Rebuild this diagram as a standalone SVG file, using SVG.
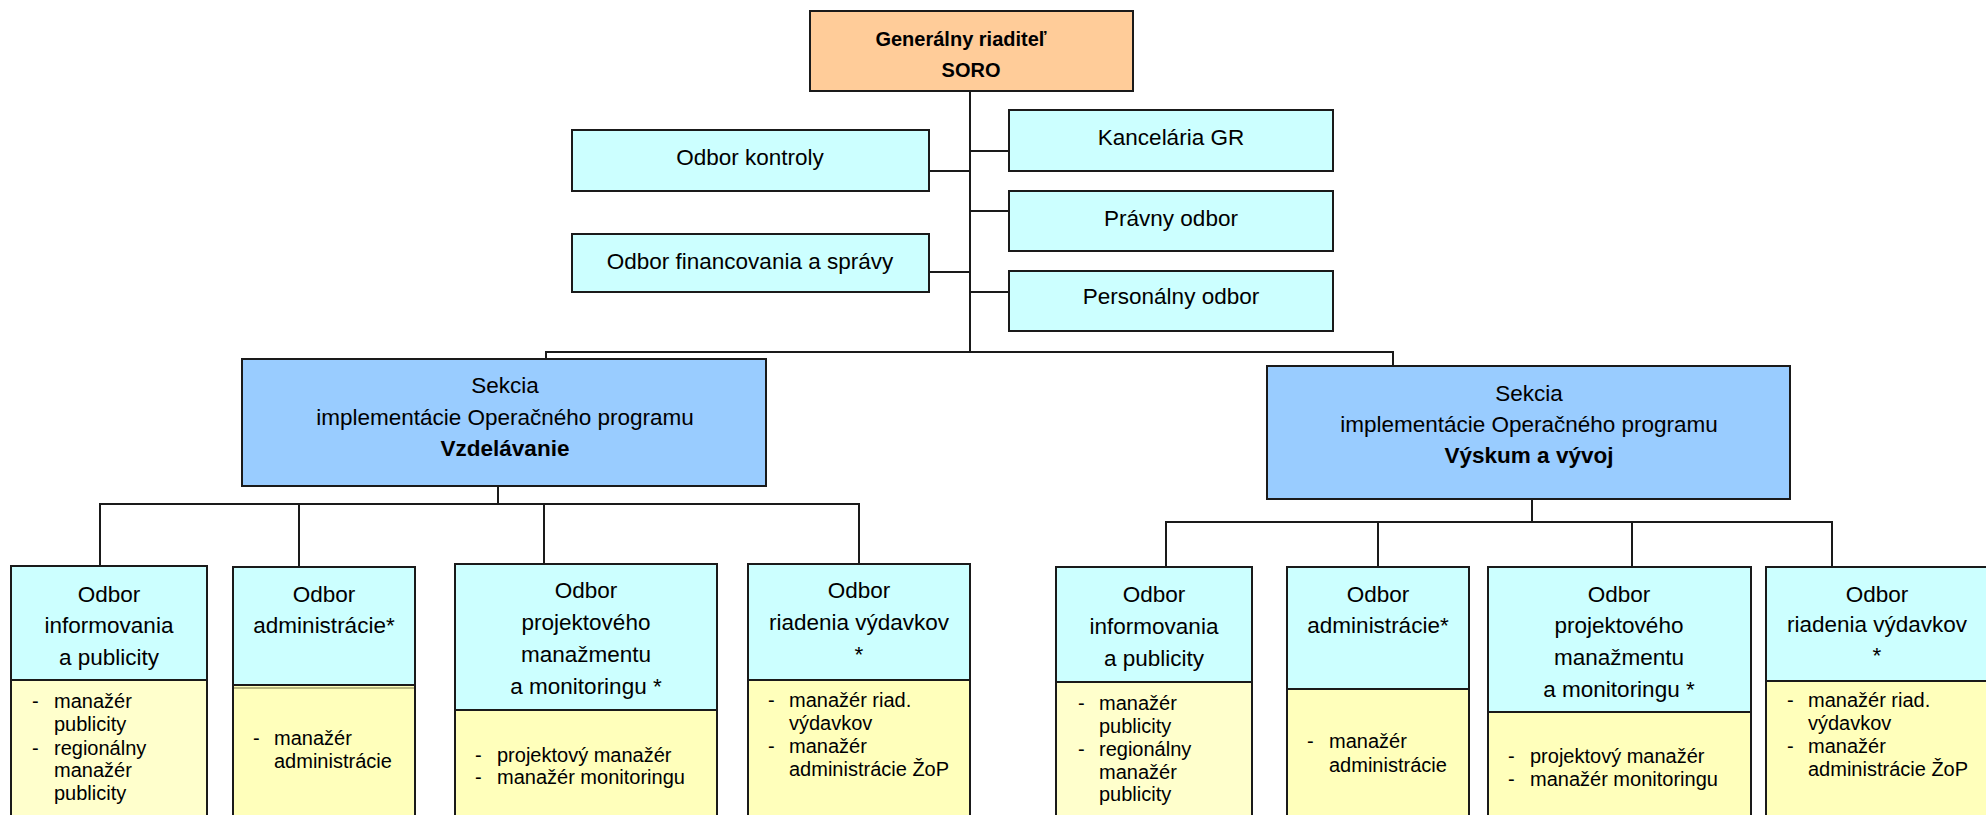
<svg xmlns="http://www.w3.org/2000/svg" width="1986" height="815" viewBox="0 0 1986 815">
<style>
text{font-family:"Liberation Sans",Arial,sans-serif;fill:#000}
.h{font-size:22.5px;text-anchor:middle}
.b{font-weight:bold}
.it{font-size:20px}
.box{stroke:#1a1a1a;stroke-width:2}
.gr{fill:#FFCC99}
.cy{fill:#CCFFFF}
.sec{fill:#99CCFF}
.y1{fill:#FFFFCC}
.y2{fill:#FFFFBB}
.ln{fill:none;stroke:#1a1a1a;stroke-width:2}
</style>
<rect width="1986" height="815" fill="#ffffff"/>
<g id="connectors" class="ln">
<path d="M970,91 V352"/>
<path d="M929,171 H970 M929,272 H970"/>
<path d="M970,151 H1009 M970,211 H1009 M970,292 H1009"/>
<path d="M546,359 V352 H1393 V366"/>
<path d="M498,486 V505"/>
<path d="M100,566 V504 H859 V566"/>
<path d="M299,504 V566 M544,505 V564"/>
<path d="M1532,499 V522"/>
<path d="M1166,567 V522 H1832 V567"/>
<path d="M1378,522 V567 M1632,522 V567"/>
</g>
<g id="gr">
<rect class="box gr" x="810" y="11" width="323" height="80"/>
<text class="h b" style="font-size:20px" x="961" y="46">Generálny riaditeľ</text>
<text class="h b" style="font-size:20px" x="971" y="77">SORO</text>
</g>
<g id="kontroly">
<rect class="box cy" x="572" y="130" width="357" height="61"/>
<text class="h" x="750" y="165">Odbor kontroly</text>
</g>
<g id="financovania">
<rect class="box cy" x="572" y="234" width="357" height="58"/>
<text class="h" x="750" y="269">Odbor financovania a správy</text>
</g>
<g id="kancelaria">
<rect class="box cy" x="1009" y="110" width="324" height="61"/>
<text class="h" x="1171" y="145">Kancelária GR</text>
</g>
<g id="pravny">
<rect class="box cy" x="1009" y="191" width="324" height="60"/>
<text class="h" x="1171" y="226">Právny odbor</text>
</g>
<g id="personalny">
<rect class="box cy" x="1009" y="271" width="324" height="60"/>
<text class="h" x="1171" y="304">Personálny odbor</text>
</g>
<g id="sekcia-vzdelavanie">
<rect class="box sec" x="242" y="359" width="524" height="127"/>
<text class="h" x="505" y="393">Sekcia</text>
<text class="h" x="505" y="425">implementácie Operačného programu</text>
<text class="h b" x="505" y="456">Vzdelávanie</text>
</g>
<g id="sekcia-vyskum">
<rect class="box sec" x="1267" y="366" width="523" height="133"/>
<text class="h" x="1529" y="401">Sekcia</text>
<text class="h" x="1529" y="432">implementácie Operačného programu</text>
<text class="h b" x="1529" y="463">Výskum a vývoj</text>
</g>
<g id="v-informovania">
<rect class="box y1" x="11" y="566" width="196" height="270"/>
<rect class="box cy" x="11" y="566" width="196" height="114"/>
<text class="h" x="109" y="602">Odbor</text>
<text class="h" x="109" y="633">informovania</text>
<text class="h" x="109" y="665">a publicity</text>
<text class="it" x="32" y="708">-</text><text class="it" x="54" y="708">manažér</text>
<text class="it" x="54" y="731">publicity</text>
<text class="it" x="32" y="755">-</text><text class="it" x="54" y="755">regionálny</text>
<text class="it" x="54" y="777">manažér</text>
<text class="it" x="54" y="800">publicity</text>
</g>
<g id="v-administracie">
<rect class="box y2" x="233" y="567" width="182" height="270"/>
<rect class="box cy" x="233" y="567" width="182" height="118"/>
<line x1="234" y1="688" x2="414" y2="688" stroke="#B8B880" stroke-width="2"/>
<text class="h" x="324" y="602">Odbor</text>
<text class="h" x="324" y="633">administrácie*</text>
<text class="it" x="253" y="745">-</text><text class="it" x="274" y="745">manažér</text>
<text class="it" x="274" y="768">administrácie</text>
</g>
<g id="v-projektoveho">
<rect class="box y2" x="455" y="564" width="262" height="270"/>
<rect class="box cy" x="455" y="564" width="262" height="146"/>
<text class="h" x="586" y="598">Odbor</text>
<text class="h" x="586" y="630">projektového</text>
<text class="h" x="586" y="662">manažmentu</text>
<text class="h" x="586" y="694">a monitoringu *</text>
<text class="it" x="475" y="762">-</text><text class="it" x="497" y="762">projektový manažér</text>
<text class="it" x="475" y="784">-</text><text class="it" x="497" y="784">manažér monitoringu</text>
</g>
<g id="v-riadenia">
<rect class="box y2" x="748" y="564" width="222" height="270"/>
<rect class="box cy" x="748" y="564" width="222" height="116"/>
<text class="h" x="859" y="598">Odbor</text>
<text class="h" x="859" y="630">riadenia výdavkov</text>
<text class="h" x="859" y="662">*</text>
<text class="it" x="768" y="707">-</text><text class="it" x="789" y="707">manažér riad.</text>
<text class="it" x="789" y="730">výdavkov</text>
<text class="it" x="768" y="753">-</text><text class="it" x="789" y="753">manažér</text>
<text class="it" x="789" y="776">administrácie ŽoP</text>
</g>
<g id="r-informovania">
<rect class="box y1" x="1056" y="567" width="196" height="270"/>
<rect class="box cy" x="1056" y="567" width="196" height="115"/>
<text class="h" x="1154" y="602">Odbor</text>
<text class="h" x="1154" y="634">informovania</text>
<text class="h" x="1154" y="666">a publicity</text>
<text class="it" x="1078" y="710">-</text><text class="it" x="1099" y="710">manažér</text>
<text class="it" x="1099" y="733">publicity</text>
<text class="it" x="1078" y="756">-</text><text class="it" x="1099" y="756">regionálny</text>
<text class="it" x="1099" y="779">manažér</text>
<text class="it" x="1099" y="801">publicity</text>
</g>
<g id="r-administracie">
<rect class="box y2" x="1287" y="567" width="182" height="270"/>
<rect class="box cy" x="1287" y="567" width="182" height="122"/>
<text class="h" x="1378" y="602">Odbor</text>
<text class="h" x="1378" y="633">administrácie*</text>
<text class="it" x="1307" y="748">-</text><text class="it" x="1329" y="748">manažér</text>
<text class="it" x="1329" y="772">administrácie</text>
</g>
<g id="r-projektoveho">
<rect class="box y2" x="1488" y="567" width="263" height="270"/>
<rect class="box cy" x="1488" y="567" width="263" height="145"/>
<text class="h" x="1619" y="602">Odbor</text>
<text class="h" x="1619" y="633">projektového</text>
<text class="h" x="1619" y="665">manažmentu</text>
<text class="h" x="1619" y="697">a monitoringu *</text>
<text class="it" x="1508" y="763">-</text><text class="it" x="1530" y="763">projektový manažér</text>
<text class="it" x="1508" y="786">-</text><text class="it" x="1530" y="786">manažér monitoringu</text>
</g>
<g id="r-riadenia">
<rect class="box y2" x="1766" y="567" width="230" height="270"/>
<rect class="box cy" x="1766" y="567" width="230" height="114"/>
<text class="h" x="1877" y="602">Odbor</text>
<text class="h" x="1877" y="632">riadenia výdavkov</text>
<text class="h" x="1877" y="663">*</text>
<text class="it" x="1787" y="707">-</text><text class="it" x="1808" y="707">manažér riad.</text>
<text class="it" x="1808" y="730">výdavkov</text>
<text class="it" x="1787" y="753">-</text><text class="it" x="1808" y="753">manažér</text>
<text class="it" x="1808" y="776">administrácie ŽoP</text>
</g>
</svg>
